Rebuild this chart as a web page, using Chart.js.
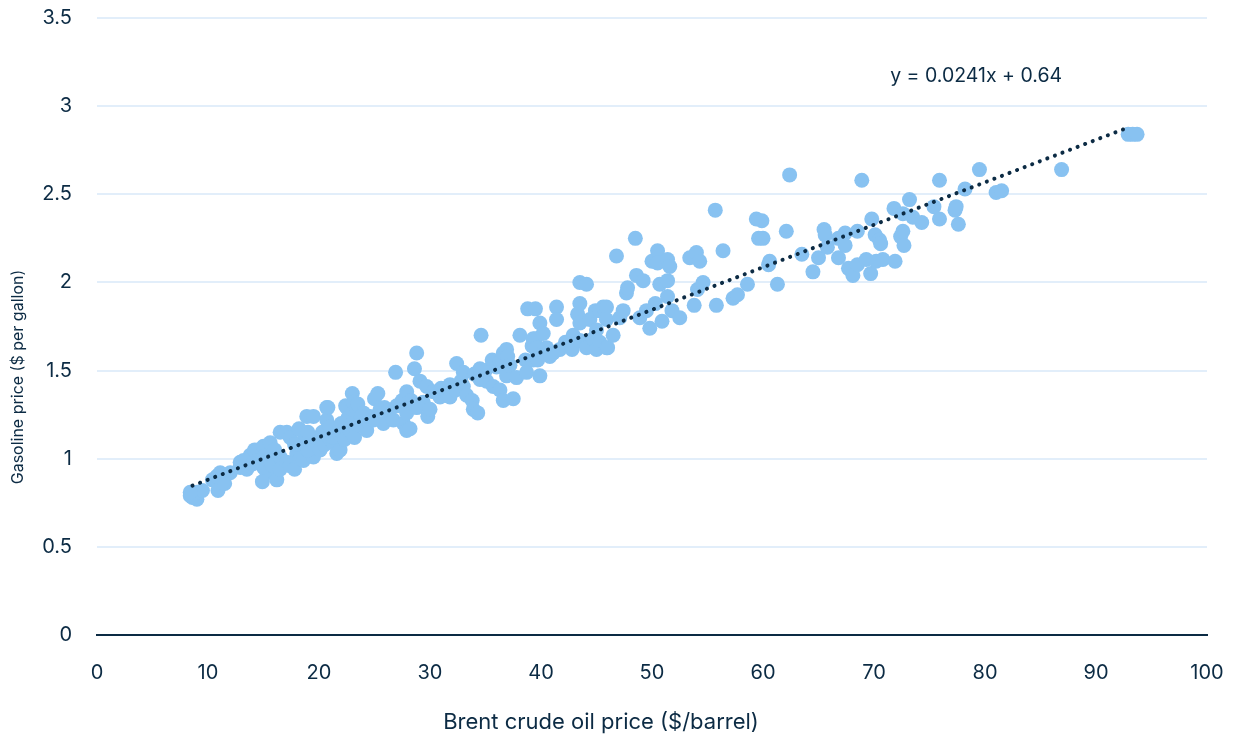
<!DOCTYPE html>
<html>
<head>
<meta charset="utf-8">
<script src="https://cdn.jsdelivr.net/npm/chart.js@4/dist/chart.umd.min.js"></script>
<style>
	body { margin: 0; background: #fff; }
	#wrap { width: 1234px; height: 734px; }
</style>
</head>
<body>
<div id="wrap"><canvas id="scatterChart" width="1234" height="734"></canvas></div>
<script>
// monthly prices, grouped by Brent price band: [brent $/barrel, gasoline $/gallon]
const under20 = [
	[8.4, 0.79], [8.6, 0.78], [9.0, 0.77], [9.0, 0.81], [9.5, 0.82], [8.4, 0.81], [10.4, 0.88], [10.8, 0.90],
	[11.1, 0.92], [10.9, 0.82], [11.5, 0.86], [12.0, 0.92], [12.9, 0.95], [13.5, 0.94], [12.9, 0.98], [13.8, 1.02],
	[14.2, 1.05], [14.5, 1.05], [14.4, 0.99], [15.0, 1.07], [15.0, 0.95], [15.0, 1.01], [15.3, 0.92], [15.6, 1.09],
	[15.6, 0.99], [15.8, 0.96], [14.9, 0.87], [16.2, 0.88], [16.5, 1.15], [16.5, 1.01], [16.5, 0.94], [17.1, 1.15],
	[17.1, 0.98], [17.4, 1.12], [17.4, 0.96], [17.8, 0.94], [18.0, 1.03], [18.3, 1.00], [18.6, 0.99], [18.7, 1.12],
	[18.9, 1.24], [18.9, 1.07], [19.2, 1.08], [19.5, 1.24], [19.5, 1.01], [19.9, 1.12], [18.2, 1.17], [19.0, 1.15],
	[13.2, 0.99], [14.0, 0.97], [16.0, 1.05], [17.8, 1.08], [19.0, 1.05]
];
const from20to40 = [
	[20.1, 1.05], [20.5, 1.08], [20.7, 1.22], [20.7, 1.29], [20.8, 1.29], [21.0, 1.11], [21.3, 1.09], [21.3, 1.12],
	[21.6, 1.03], [21.7, 1.15], [21.9, 1.05], [21.9, 1.16], [22.3, 1.11], [22.4, 1.30], [22.5, 1.29], [22.6, 1.23],
	[22.8, 1.16], [23.0, 1.37], [23.0, 1.28], [23.1, 1.32], [23.2, 1.12], [23.4, 1.28], [23.5, 1.31], [23.7, 1.19],
	[24.0, 1.20], [24.0, 1.26], [24.3, 1.16], [24.5, 1.21], [24.6, 1.24], [24.9, 1.22], [25.0, 1.34], [25.3, 1.37],
	[25.5, 1.28], [25.8, 1.20], [25.9, 1.29], [26.2, 1.27], [26.7, 1.22], [26.9, 1.49], [27.0, 1.30], [27.5, 1.33],
	[27.6, 1.20], [27.9, 1.38], [27.9, 1.26], [27.9, 1.16], [28.2, 1.17], [28.3, 1.33], [28.6, 1.51], [28.8, 1.60],
	[28.8, 1.29], [29.1, 1.44], [29.4, 1.32], [29.7, 1.41], [29.8, 1.24], [30.0, 1.28], [30.3, 1.38], [30.9, 1.35],
	[31.0, 1.40], [31.5, 1.38], [31.8, 1.42], [31.8, 1.35], [32.3, 1.39], [32.4, 1.54], [32.8, 1.44], [33.0, 1.49],
	[33.0, 1.41], [33.3, 1.36], [33.8, 1.33], [33.9, 1.28], [34.0, 1.48], [34.3, 1.26], [34.5, 1.45], [34.5, 1.51],
	[34.6, 1.70], [34.8, 1.46], [35.0, 1.50], [35.1, 1.44], [35.6, 1.56], [35.7, 1.41], [36.0, 1.52], [36.3, 1.39],
	[36.3, 1.55], [36.6, 1.33], [36.6, 1.60], [36.9, 1.62], [36.9, 1.47], [37.0, 1.58], [37.2, 1.53], [37.5, 1.34],
	[37.8, 1.46], [38.1, 1.70], [38.6, 1.56], [38.7, 1.49], [38.8, 1.85], [39.2, 1.64], [39.3, 1.68], [39.3, 1.56],
	[39.5, 1.85], [39.5, 1.68], [39.6, 1.63], [39.7, 1.56], [39.9, 1.77], [39.9, 1.47],
	[20.3, 1.15], [21.0, 1.18], [22.0, 1.20], [23.8, 1.24]
];
const from40to60 = [
	[40.2, 1.71], [40.2, 1.60], [40.5, 1.63], [40.8, 1.58], [41.1, 1.60], [41.4, 1.86], [41.4, 1.79], [41.7, 1.62],
	[42.2, 1.66], [42.8, 1.62], [42.8, 1.63], [42.9, 1.69], [42.9, 1.70], [43.3, 1.82], [43.5, 2.00], [43.5, 1.88],
	[43.5, 1.77], [43.5, 1.67], [44.1, 1.99], [44.1, 1.63], [44.4, 1.79], [44.7, 1.68], [44.9, 1.84], [45.0, 1.73],
	[45.0, 1.62], [45.3, 1.84], [45.3, 1.66], [45.6, 1.86], [45.9, 1.86], [45.9, 1.79], [45.9, 1.63], [46.0, 1.63],
	[46.5, 1.70], [46.8, 2.15], [47.1, 1.80], [47.4, 1.84], [47.7, 1.94], [47.8, 1.97], [48.5, 2.25], [48.6, 2.04],
	[48.9, 1.80], [49.2, 2.01], [49.5, 1.84], [49.8, 1.74], [50.0, 2.12], [50.3, 1.88], [50.5, 2.18], [50.5, 2.11],
	[50.7, 1.99], [50.9, 1.78], [51.4, 2.13], [51.4, 2.01], [51.4, 1.92], [51.6, 2.09], [51.8, 1.84], [52.5, 1.80],
	[53.4, 2.14], [53.8, 1.87], [54.0, 2.17], [54.1, 1.96], [54.3, 2.12], [54.6, 2.00], [55.7, 2.41], [55.8, 1.87],
	[56.4, 2.18], [57.3, 1.91], [57.7, 1.93], [58.6, 1.99], [59.4, 2.36], [59.6, 2.25], [59.9, 2.35]
];
const over60 = [
	[60.0, 2.25], [60.5, 2.10], [60.6, 2.12], [61.3, 1.99], [62.1, 2.29], [62.4, 2.61], [63.5, 2.16], [64.5, 2.06],
	[65.0, 2.14], [65.5, 2.30], [65.6, 2.27], [65.8, 2.20], [66.8, 2.25], [66.8, 2.14], [67.4, 2.28], [67.4, 2.21],
	[67.7, 2.08], [68.1, 2.04], [68.5, 2.29], [68.5, 2.10], [68.9, 2.58], [69.3, 2.13], [69.7, 2.05], [69.8, 2.36],
	[70.1, 2.27], [70.2, 2.12], [70.5, 2.24], [70.6, 2.22], [70.8, 2.13], [71.8, 2.42], [71.9, 2.12], [72.4, 2.26],
	[72.6, 2.39], [72.6, 2.29], [72.7, 2.21], [73.2, 2.47], [73.5, 2.37], [74.3, 2.34], [75.4, 2.43], [75.9, 2.58],
	[75.9, 2.36], [77.3, 2.41], [77.4, 2.43], [77.6, 2.33], [78.2, 2.53], [79.5, 2.64], [81.0, 2.51], [81.5, 2.52],
	[86.9, 2.64], [92.9, 2.84], [93.3, 2.84], [93.7, 2.84]
];

// linear fit shown on the chart
const trendSlope = 0.0241;
const trendIntercept = 0.64;
const trendRange = [8.6, 92.9];
const trendText = 'y = 0.0241x + 0.64';
const trendTextAt = [79.2, 3.17];

const xTitle = 'Brent crude oil price ($/barrel)';
const yTitle = 'Gasoline price ($ per gallon)';

const navy = '#0c2b44';
const dotBlue = '#88c2f1';
const gridBlue = '#e2eefa';
const fontFamily = 'Inter, "Noto Sans", sans-serif';

let chart;

function toPoints(pairs) {
	return pairs.map(p => ({ x: p[0], y: p[1] }));
}

// trend equation plus the two axis titles (they sit off-centre in the original)
const chartText = {
	id: 'chartText',
	afterDraw(c) {
		const { ctx, scales } = c;
		ctx.save();
		ctx.fillStyle = navy;
		ctx.textAlign = 'center';
		ctx.textBaseline = 'middle';
		ctx.font = '19.5px ' + fontFamily;
		ctx.fillText(trendText, scales.x.getPixelForValue(trendTextAt[0]), scales.y.getPixelForValue(trendTextAt[1]));

		ctx.font = '22px ' + fontFamily;
		ctx.fillText(xTitle, c.width / 2 - 16, c.height - 12);

		ctx.translate(18, c.height / 2 + 10);
		ctx.rotate(-Math.PI / 2);
		ctx.font = '16px ' + fontFamily;
		ctx.fillText(yTitle, 0, 0);
		ctx.restore();
	}
};

function createChart() {
	const ctx = document.getElementById('scatterChart').getContext('2d');
	const allPoints = [].concat(under20, from20to40, from40to60, over60);
	chart = new Chart(ctx, {
		type: 'scatter',
		data: {
			datasets: [
				{
					label: 'Trend',
					data: trendRange.map(x => ({ x: x, y: trendSlope * x + trendIntercept })),
					showLine: true,
					borderColor: navy,
					borderWidth: 4,
					borderDash: [0.1, 8],
					borderCapStyle: 'round',
					pointRadius: 0
				},
				{
					label: 'Monthly prices',
					data: toPoints(allPoints),
					backgroundColor: dotBlue,
					borderWidth: 0,
					pointRadius: 7.5
				}
			]
		},
		options: {
			responsive: false,
			animation: false,
			layout: { autoPadding: false, padding: { top: 18, right: 27, left: 0, bottom: 0 } },
			plugins: {
				legend: { display: false },
				tooltip: { enabled: false }
			},
			scales: {
				x: {
					type: 'linear',
					min: 0,
					max: 100,
					ticks: { stepSize: 10, color: navy, padding: 18, font: { family: fontFamily, size: 20 } },
					grid: { display: false },
					border: { display: true, color: navy, width: 2 },
					afterFit(scale) {
						scale.height = 99;
						scale.paddingRight = 0;
					}
				},
				y: {
					min: 0,
					max: 3.5,
					ticks: {
						stepSize: 0.5,
						color: navy,
						padding: 25,
						font: { family: fontFamily, size: 20 },
						callback: v => String(+v.toFixed(1))
					},
					grid: {
						color: ctx => ctx.tick.value === 0 ? navy : gridBlue,
						lineWidth: 2,
						drawTicks: false
					},
					border: { display: false },
					afterFit(scale) {
						scale.width = 97;
						scale.paddingTop = 0;
					}
				}
			}
		},
		plugins: [chartText]
	});
}

document.addEventListener('DOMContentLoaded', createChart);
</script>
</body>
</html>
